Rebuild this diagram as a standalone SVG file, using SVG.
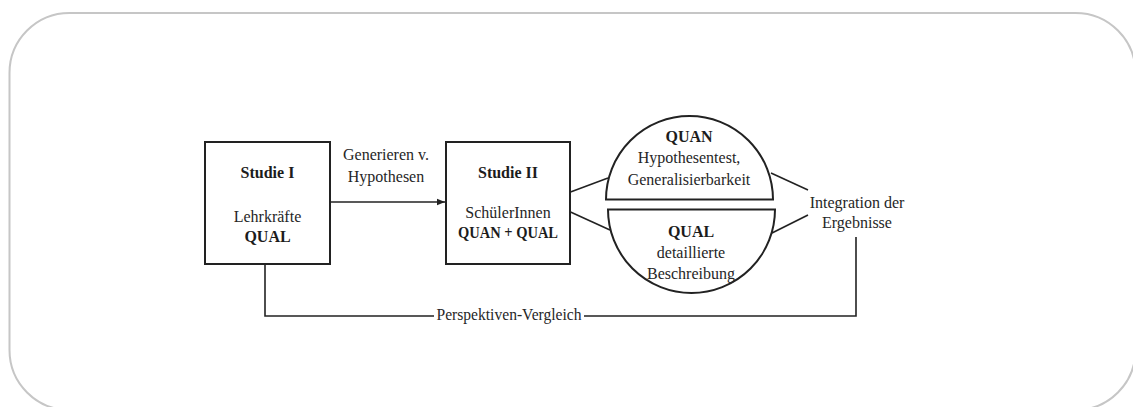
<svg xmlns="http://www.w3.org/2000/svg" width="1133" height="407" viewBox="0 0 1133 407">
  <defs>
    <marker id="arrow" viewBox="0 0 10 10" refX="10" refY="5" markerWidth="8" markerHeight="8" markerUnits="userSpaceOnUse" orient="auto">
      <path d="M0,1 L10,5 L0,9 Z" fill="#222"/>
    </marker>
    <style>
      .frame { fill: #fff; stroke: #c6c6c6; stroke-width: 2; }
      .box { fill: #fff; stroke: #222; stroke-width: 2; }
      .half { fill: #fff; stroke: #222; stroke-width: 2; }
      .link { fill: none; stroke: #222; stroke-width: 1.6; }
      text { font-family: "Liberation Serif", "DejaVu Serif", serif; font-size: 16px; fill: #262626; text-anchor: middle; }
      .b { font-weight: bold; fill: #1c1c1c; }
    </style>
  </defs>

  <rect x="0" y="0" width="1133" height="407" fill="#fff"/>
  <rect class="frame" x="9.5" y="13" width="1126" height="397" rx="60" ry="60"/>

  <!-- connectors -->
  <g id="connectors">
    <line class="link" x1="330" y1="202" x2="445" y2="202" marker-end="url(#arrow)"/>
    <line class="link" x1="570.5" y1="192" x2="608" y2="178"/>
    <line class="link" x1="570.5" y1="212" x2="610" y2="230"/>
    <line class="link" x1="771" y1="173" x2="808" y2="190"/>
    <line class="link" x1="772" y1="233" x2="808" y2="215"/>
    <polyline class="link" points="265,264 265,316 434,316"/>
    <polyline class="link" points="584,316 856,316 856,237"/>
  </g>
  <g id="label-generieren">
    <text x="386" y="160">Generieren v.</text>
    <text x="386" y="182">Hypothesen</text>
  </g>
  <g id="label-vergleich">
    <text x="509" y="320" textLength="145" lengthAdjust="spacingAndGlyphs">Perspektiven-Vergleich</text>
  </g>

  <!-- Studie I -->
  <g id="studie1">
    <rect class="box" x="205" y="142" width="125" height="122"/>
    <text class="b" x="267.5" y="178">Studie I</text>
    <text x="267.5" y="222">Lehrkräfte</text>
    <text class="b" x="267.5" y="242">QUAL</text>
  </g>

  <!-- Studie II -->
  <g id="studie2">
    <rect class="box" x="446" y="142" width="124" height="122"/>
    <text class="b" x="508" y="178">Studie II</text>
    <text x="508" y="218">SchülerInnen</text>
    <text class="b" x="508" y="238" textLength="100" lengthAdjust="spacingAndGlyphs">QUAN + QUAL</text>
  </g>

  <!-- QUAN half -->
  <g id="quan">
    <path class="half" d="M606,199.5 A83.5,83.5 0 0 1 773,199.5 Z"/>
    <text class="b" x="689" y="142">QUAN</text>
    <text x="689" y="163">Hypothesentest,</text>
    <text x="689" y="185">Generalisierbarkeit</text>
  </g>

  <!-- QUAL half -->
  <g id="qual">
    <path class="half" d="M608,209.5 A83.5,83.5 0 0 0 775,209.5 Z"/>
    <text class="b" x="691" y="237">QUAL</text>
    <text x="691" y="258">detaillierte</text>
    <text x="691" y="279">Beschreibung</text>
  </g>

  <!-- Integration -->
  <g id="integration">
    <text x="857" y="208">Integration der</text>
    <text x="857" y="228">Ergebnisse</text>
  </g>
</svg>
